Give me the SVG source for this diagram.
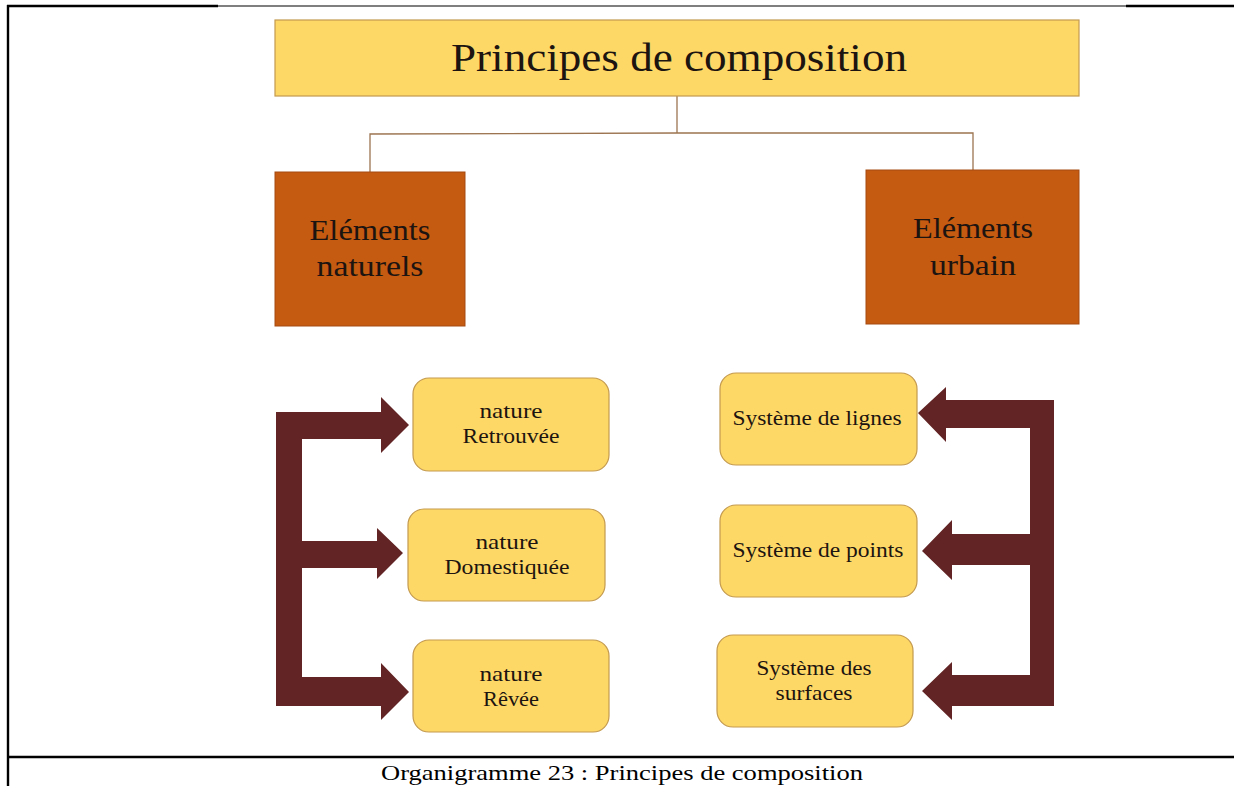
<svg xmlns="http://www.w3.org/2000/svg" width="1234" height="786" viewBox="0 0 1234 786">
<style>
.t{font-family:"Liberation Serif","Times New Roman",serif;fill:#1c1410;text-anchor:middle}
.yb{fill:#FED866;stroke:#C49A4E;stroke-width:1.2}
.ob{fill:#C55A11;stroke:#A54A12;stroke-width:1}
.ln{fill:none;stroke:#9C7450;stroke-width:1.3}
.ar{fill:#622424}
.fr{stroke:#000;fill:none}
</style>
<rect width="1234" height="786" fill="#fff"/>
<g id="frame">
<line class="fr" x1="8" y1="5" x2="8" y2="786" stroke-width="2.4"/>
<line class="fr" x1="7" y1="6" x2="218" y2="6" stroke-width="2.4"/>
<line class="fr" x1="218" y1="6" x2="1126" y2="6" stroke-width="1.2"/>
<line class="fr" x1="1126" y1="6" x2="1234" y2="6" stroke-width="2.4"/>
<line class="fr" x1="7" y1="757" x2="1234" y2="757" stroke-width="2.6"/>
</g>
<g id="connectors">
<polyline class="ln" points="677,96 677,133"/>
<polyline class="ln" points="370,172 370,134 677,133 973,133 973,170"/>
<path class="ar" d="M276,412 L381,412 L381,397 L409,425 L381,453 L381,439 L302,439 L302,541 L377,541 L377,528 L403,553 L377,579 L377,568 L302,568 L302,677 L381,677 L381,663 L409,692 L381,720 L381,706 L276,706 Z"/>
<path class="ar" d="M1054,400 L946,400 L946,387 L918,413 L946,442 L946,428 L1030,428 L1030,534 L952,534 L952,520 L922,551 L952,580 L952,565 L1030,565 L1030,675 L952,675 L952,662 L922,691 L952,720 L952,706 L1054,706 Z"/>
</g>
<g id="title">
<rect class="yb" x="275" y="20" width="804" height="76"/>
<text class="t" x="679" y="71" font-size="40" textLength="456" lengthAdjust="spacingAndGlyphs">Principes de composition</text>
</g>
<g id="naturels">
<rect class="ob" x="275" y="172" width="190" height="154"/>
<text class="t" x="370" y="240" font-size="29" textLength="121" lengthAdjust="spacingAndGlyphs">Eléments</text>
<text class="t" x="370" y="276" font-size="29" textLength="107" lengthAdjust="spacingAndGlyphs">naturels</text>
</g>
<g id="urbain">
<rect class="ob" x="866" y="170" width="213" height="154"/>
<text class="t" x="973" y="238" font-size="29" textLength="120" lengthAdjust="spacingAndGlyphs">Eléments</text>
<text class="t" x="973" y="275" font-size="29" textLength="86" lengthAdjust="spacingAndGlyphs">urbain</text>
</g>
<g id="retrouvee">
<rect class="yb" x="413" y="378" width="196" height="93" rx="16"/>
<text class="t" x="511" y="418" font-size="21.5" textLength="63" lengthAdjust="spacingAndGlyphs">nature</text>
<text class="t" x="511" y="443" font-size="21.5" textLength="97" lengthAdjust="spacingAndGlyphs">Retrouvée</text>
</g>
<g id="domestiquee">
<rect class="yb" x="408" y="509" width="197" height="92" rx="16"/>
<text class="t" x="507" y="549" font-size="21.5" textLength="63" lengthAdjust="spacingAndGlyphs">nature</text>
<text class="t" x="507" y="574" font-size="21.5" textLength="125" lengthAdjust="spacingAndGlyphs">Domestiquée</text>
</g>
<g id="revee">
<rect class="yb" x="413" y="640" width="196" height="92" rx="16"/>
<text class="t" x="511" y="681" font-size="21.5" textLength="63" lengthAdjust="spacingAndGlyphs">nature</text>
<text class="t" x="511" y="706" font-size="21.5" textLength="56" lengthAdjust="spacingAndGlyphs">Rêvée</text>
</g>
<g id="lignes">
<rect class="yb" x="720" y="373" width="197" height="92" rx="16"/>
<text class="t" x="817" y="425" font-size="21.5" textLength="169" lengthAdjust="spacingAndGlyphs">Système de lignes</text>
</g>
<g id="points">
<rect class="yb" x="720" y="505" width="197" height="92" rx="16"/>
<text class="t" x="818" y="557" font-size="21.5" textLength="171" lengthAdjust="spacingAndGlyphs">Système de points</text>
</g>
<g id="surfaces">
<rect class="yb" x="717" y="635" width="196" height="92" rx="16"/>
<text class="t" x="814" y="675" font-size="21.5" textLength="115" lengthAdjust="spacingAndGlyphs">Système des</text>
<text class="t" x="814" y="700" font-size="21.5" textLength="77" lengthAdjust="spacingAndGlyphs">surfaces</text>
</g>
<g id="caption">
<text class="t" x="622" y="780" font-size="21" textLength="482" lengthAdjust="spacingAndGlyphs" style="fill:#000">Organigramme 23 : Principes de composition</text>
</g>
</svg>
